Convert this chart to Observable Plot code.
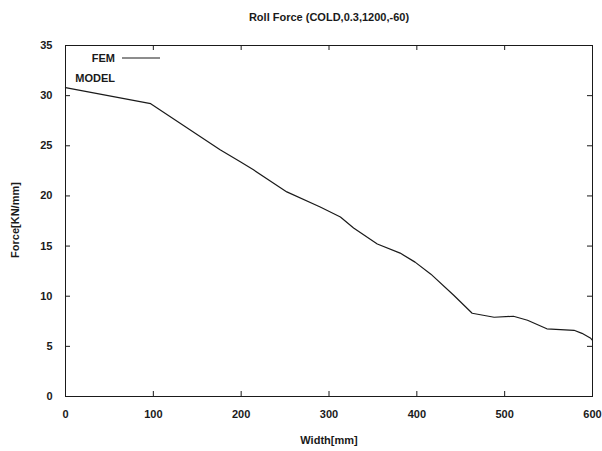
<!DOCTYPE html>
<html>
<head>
<meta charset="utf-8">
<script src="https://cdn.jsdelivr.net/npm/d3@7"></script>
<script src="https://cdn.jsdelivr.net/npm/@observablehq/plot@0.6"></script>
<style>
  html, body { margin: 0; padding: 0; background: #fff; }
  #chart svg { display: block; }
</style>
</head>
<body>
<div id="chart"></div>
<script>
// Roll force across the strip width (FEM result)
const widthMm = [0, 97, 176, 199, 214, 252, 290, 313, 328, 355, 381, 398, 416, 442, 463, 488, 510, 526, 548, 579, 588, 598, 600];
const forceFem = [30.8, 29.2, 24.6, 23.4, 22.6, 20.4, 18.9, 17.9, 16.8, 15.2, 14.3, 13.4, 12.2, 10.1, 8.3, 7.9, 8.0, 7.6, 6.75, 6.6, 6.3, 5.8, 5.6];

const xTicks = [0, 100, 200, 300, 400, 500, 600];
const yTicks = [0, 5, 10, 15, 20, 25, 30, 35];
const legendLabels = ["FEM", "MODEL"];

const fem = widthMm.map((w, i) => ({width: w, force: forceFem[i]}));

const W = 602, H = 451;
const mL = 65, mR = 10, mT = 45, mB = 55;
const innerH = H - mT - mB;
const innerW = W - mL - mR;
const tickLen = 5;
const ink = "#1a1a1a";
const font = "'Liberation Sans', Arial, sans-serif";

const chart = Plot.plot({
  width: W,
  height: H,
  marginLeft: mL,
  marginRight: mR,
  marginTop: mT,
  marginBottom: mB,
  style: {
    fontFamily: font,
    fontSize: "11px",
    fontWeight: "bold",
    background: "#fff",
    color: ink
  },
  x: {domain: [0, 600]},
  y: {domain: [0, 35]},
  marks: [
    Plot.frame({stroke: ink, strokeWidth: 1}),
    // inward ticks on all four sides
    Plot.tickX(xTicks, {x: d => d, stroke: ink, insetTop: innerH - tickLen}),
    Plot.tickX(xTicks, {x: d => d, stroke: ink, insetBottom: innerH - tickLen}),
    Plot.tickY(yTicks, {y: d => d, stroke: ink, insetRight: innerW - tickLen}),
    Plot.tickY(yTicks, {y: d => d, stroke: ink, insetLeft: innerW - tickLen}),
    Plot.axisX({ticks: xTicks, tickSize: 0, tickPadding: 14, label: null, fontWeight: "bold"}),
    Plot.axisY({ticks: yTicks, tickSize: 0, tickPadding: 13, label: null, fontWeight: "bold"}),
    Plot.line(fem, {x: "width", y: "force", stroke: ink, strokeWidth: 1.2}),
    Plot.text(["Roll Force (COLD,0.3,1200,-60)"], {
      text: d => d, frameAnchor: "top", dy: -32, fontSize: 11, fontWeight: "bold"
    }),
    Plot.text(["Width[mm]"], {
      text: d => d, frameAnchor: "bottom", dy: 47, fontSize: 11, fontWeight: "bold"
    }),
    Plot.text(["Force[KN/mm]"], {
      text: d => d, frameAnchor: "left", textAnchor: "middle", dx: -50, dy: -1,
      rotate: -90, fontSize: 11, fontWeight: "bold"
    })
  ]
});

document.getElementById("chart").appendChild(chart);

// Legend in the frame's top-left corner: right-aligned labels, FEM line sample
const legend = d3.select(chart).append("g").attr("font-family", font).attr("font-size", 11).attr("font-weight", "bold");
legend.selectAll("text")
  .data(legendLabels)
  .join("text")
  .attr("x", mL + 50)
  .attr("y", (d, i) => mT + 13 + i * 20)
  .attr("dy", "0.35em")
  .attr("text-anchor", "end")
  .attr("fill", ink)
  .text(d => d);
legend.append("line")
  .attr("x1", mL + 57).attr("x2", mL + 95)
  .attr("y1", mT + 13).attr("y2", mT + 13)
  .attr("stroke", ink).attr("stroke-width", 1);
</script>
</body>
</html>
